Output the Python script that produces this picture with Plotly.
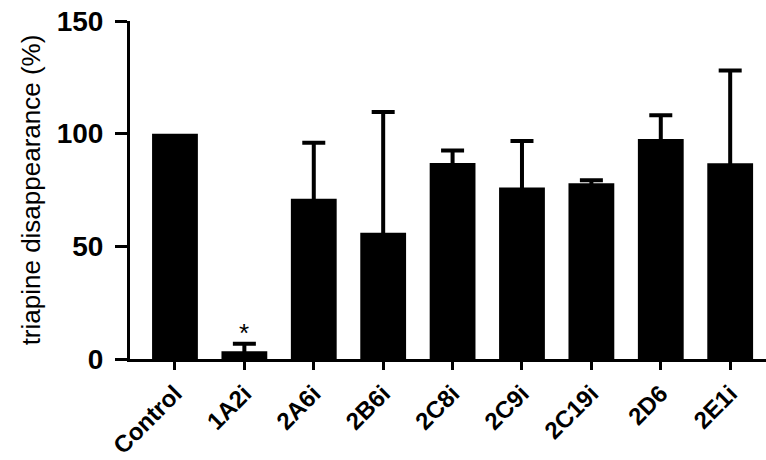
import plotly.graph_objects as go

# Triapine disappearance per CYP inhibitor (% of control), mean + SD
categories = ["Control", "1A2i", "2A6i", "2B6i", "2C8i", "2C9i", "2C19i", "2D6", "2E1i"]
means = [100, 3.4, 71.1, 56.0, 87.0, 76.1, 78.0, 97.6, 86.9]
upper = [None, 6.8, 96.0, 109.6, 92.5, 96.7, 79.3, 108.2, 128.0]
significance = ["", "*", "", "", "", "", "", "", ""]

FONT = "Arial, Liberation Sans, Helvetica, sans-serif"

xs = list(range(len(categories)))
# the control is the 100 % reference and carries no SD
no_err = [i for i, u in enumerate(upper) if u is None]
with_err = [i for i, u in enumerate(upper) if u is not None]

fig = go.Figure()
fig.add_trace(go.Bar(
    x=[xs[i] for i in no_err],
    y=[means[i] for i in no_err],
    width=0.66,
    marker=dict(color="black", line=dict(width=0)),
    showlegend=False,
))
fig.add_trace(go.Bar(
    x=[xs[i] for i in with_err],
    y=[means[i] for i in with_err],
    width=0.66,
    marker=dict(color="black", line=dict(width=0)),
    error_y=dict(
        type="data",
        symmetric=False,
        # upward SD; the lower whisker stays hidden inside the bar
        array=[upper[i] - means[i] for i in with_err],
        arrayminus=[means[i] * 0.5 for i in with_err],
        color="black",
        thickness=4,
        width=11.5,
    ),
    showlegend=False,
))

for i, (mark, top) in enumerate(zip(significance, upper)):
    if mark:
        fig.add_annotation(
            x=i, y=top, text=mark, showarrow=False,
            yanchor="bottom", yshift=-6,
            font=dict(family=FONT, size=26, color="black"),
        )

fig.update_layout(
    width=766, height=460,
    margin=dict(l=130, r=0, t=21, b=101),
    barmode="overlay",
    paper_bgcolor="white",
    plot_bgcolor="white",
    font=dict(family=FONT, color="black"),
)

fig.update_xaxes(
    range=[-0.648, 8.516],
    tickmode="array",
    tickvals=xs,
    ticktext=categories,
    tickangle=-45,
    tickfont=dict(family=FONT, size=24, color="black", weight="bold"),
    showline=True, linecolor="black", linewidth=3,
    ticks="outside", ticklen=8, tickwidth=2.5, tickcolor="black",
    showgrid=False, zeroline=False,
    automargin=False,
)

fig.update_yaxes(
    range=[0, 150],
    tickvals=[0, 50, 100, 150],
    tickfont=dict(family=FONT, size=28, color="black", weight="bold"),
    showline=True, linecolor="black", linewidth=3,
    ticks="outside", ticklen=12, tickwidth=3, tickcolor="black",
    ticklabelstandoff=6,
    showgrid=False, zeroline=False,
    automargin=False,
    title=dict(text="triapine disappearance (%)",
               font=dict(family=FONT, size=26, color="black"),
               standoff=9),
)

fig.write_html("out.html")
